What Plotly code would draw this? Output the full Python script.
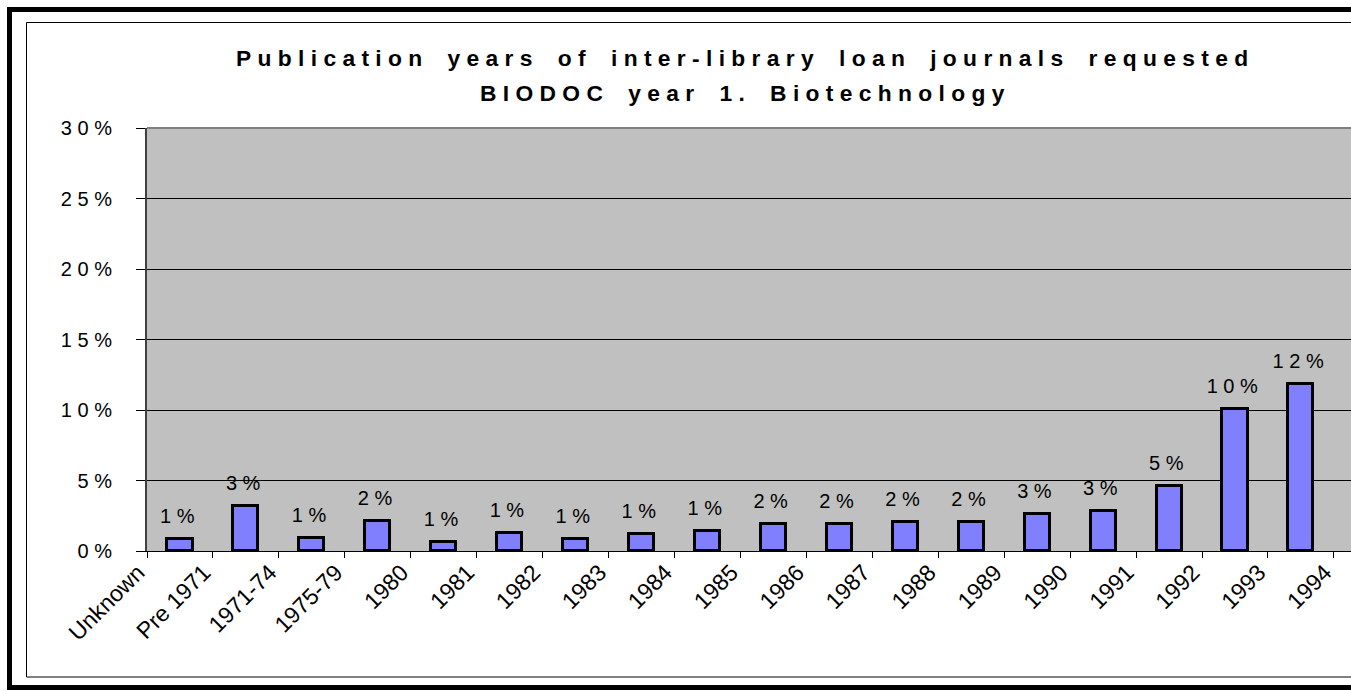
import plotly.graph_objects as go

# ---- data ----
categories = ["Unknown", "Pre 1971", "1971-74", "1975-79", "1980", "1981", "1982",
              "1983", "1984", "1985", "1986", "1987", "1988", "1989", "1990",
              "1991", "1992", "1993", "1994"]
share_pct = [0.84, 3.16, 0.91, 2.14, 0.67, 1.26, 0.87, 1.22, 1.43, 1.93, 1.95,
             2.05, 2.05, 2.61, 2.83, 4.58, 10.04, 11.87, 19.7]
y_tick_values = [0, 5, 10, 15, 20, 25, 30]
y_tick_labels = ["0 %", "5 %", "1 0 %", "1 5 %", "2 0 %", "2 5 %", "3 0 %"]
title_line1 = "Publication years of inter-library loan journals requested"
title_line2 = "BIODOC year 1. Biotechnology"

NB = "\u00a0"


def spaced(s, word_gap=4):
    words = s.split(" ")
    return (NB * word_gap).join(NB.join(list(w)) for w in words)


def pct_label(v):
    return NB.join(list(str(int(round(v))))) + NB + "%" + NB


bar_labels = [pct_label(v) for v in share_pct]
xpos = list(range(len(categories)))

# ---- layout geometry ----
W, H = 1351, 691
ML, MR, MT, MB = 147, 0, 128, 140
PW, PH = W - ML - MR, H - MT - MB


def px(x):
    return (x - ML) / PW


def py(y):
    return (H - MB - y) / PH


FONT = "Liberation Sans, Arial, sans-serif"

fig = go.Figure()
fig.add_trace(go.Bar(
    x=xpos, y=share_pct, width=0.38,
    marker=dict(color="#8080FF", line=dict(color="black", width=3)),
    hoverinfo="skip",
))
fig.add_trace(go.Scatter(
    x=xpos, y=share_pct, mode="markers+text", text=bar_labels,
    textposition="top center",
    textfont=dict(family=FONT, size=20, color="black"),
    marker=dict(size=16, color="rgba(0,0,0,0)"),
    cliponaxis=False, hoverinfo="skip", showlegend=False,
))

fig.update_layout(
    width=W, height=H,
    margin=dict(l=ML, r=MR, t=MT, b=MB, pad=0),
    paper_bgcolor="white", plot_bgcolor="#C0C0C0",
    showlegend=False, bargap=0,
    font=dict(family=FONT, size=19, color="black"),
    xaxis=dict(
        range=[-0.5, (W - ML) / 65.94 - 0.5],
        tickvals=[i - 0.5 for i in xpos], ticktext=categories,
        tickangle=-45, ticks="outside", ticklen=6, tickcolor="black", tickwidth=1,
        showgrid=False, zeroline=False, showline=True, linecolor="black", linewidth=1,
        tickfont=dict(family=FONT, size=23, color="black"),
        ticklabelshift=-9, ticklabelstandoff=-8,
    ),
    yaxis=dict(
        range=[0, 30], tickvals=y_tick_values, ticktext=y_tick_labels,
        ticks="outside", ticklen=9, tickcolor="black", tickwidth=1,
        showgrid=True, gridcolor="black", gridwidth=1,
        zeroline=False, showline=True, linecolor="#404040", linewidth=2,
        tickfont=dict(family=FONT, size=20, color="black"),
        ticklabelstandoff=20,
    ),
    shapes=[
        # plot-area top border (grey)
        dict(type="line", xref="paper", yref="paper", x0=0, x1=1.2, y0=1, y1=1,
             line=dict(color="#808080", width=2), layer="above"),
        # inner thin frame
        dict(type="rect", xref="paper", yref="paper",
             x0=px(26.5), x1=px(1600), y0=py(677), y1=py(22.5),
             line=dict(color="black", width=1)),
        # outer thick frame
        dict(type="rect", xref="paper", yref="paper",
             x0=px(9.5), x1=px(1600), y0=py(687.5), y1=py(9.5),
             line=dict(color="black", width=5)),
    ],
    annotations=[
        dict(text="<b>" + spaced(title_line1) + "</b>", xref="paper", yref="paper",
             x=px(742), y=py(58), xanchor="center", yanchor="middle", showarrow=False,
             font=dict(family=FONT, size=22.8, color="black")),
        dict(text="<b>" + spaced(title_line2) + "</b>", xref="paper", yref="paper",
             x=px(742), y=py(93), xanchor="center", yanchor="middle", showarrow=False,
             font=dict(family=FONT, size=22.8, color="black")),
    ],
)

fig.write_html(
    "out.html",
    config={"displayModeBar": False},
    post_script="document.body.style.margin='0';document.body.style.overflow='hidden';",
)
